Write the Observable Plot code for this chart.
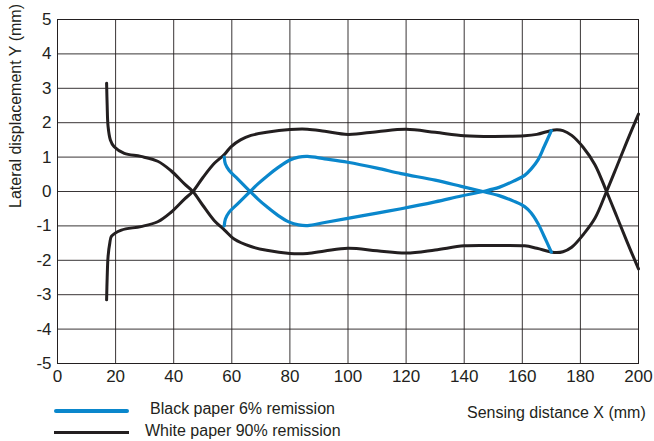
<!DOCTYPE html>
<html>
<head>
<meta charset="utf-8">
<script src="https://cdn.jsdelivr.net/npm/d3@7"></script>
<script src="https://cdn.jsdelivr.net/npm/@observablehq/plot@0.6"></script>
<style>
  body { margin: 0; background: #fff; }
  #wrap { position: relative; width: 654px; height: 441px; font-family: "Liberation Sans", Arial, sans-serif; color: #231f20; }
  #wrap svg { position: absolute; left: 0; top: 0; }
  .lbl { position: absolute; font-size: 16px; line-height: 18px; white-space: nowrap; }
  .sw { position: absolute; }
</style>
</head>
<body>
<div id="wrap"></div>
<script>
// Tick values
const xTicks = [0, 20, 40, 60, 80, 100, 120, 140, 160, 180, 200];
const yTicks = [-5, -4, -3, -2, -1, 0, 1, 2, 3, 4, 5];

// Series names
const seriesNames = ["Black paper 6% remission", "White paper 90% remission"];
const seriesColors = ["#0a87cc", "#231f20"];

// White paper 90% remission: branch starting at top-left
const whiteA = [
  [16.9,3.15],[17.1,2.5],[17.4,1.9],[18.2,1.5],[19.5,1.3],[23,1.11],[28.7,1.02],[34.5,0.88],[39,0.61],[43.7,0.22],[46.6,0],
  [50,-0.4],[54,-0.85],[57.5,-1.12],[60.8,-1.38],[66.6,-1.6],[72,-1.71],[80,-1.8],[86,-1.8],[92,-1.73],[100,-1.65],
  [110,-1.72],[120,-1.79],[130,-1.7],[140,-1.58],[150,-1.57],[160.8,-1.58],[165,-1.65],[171,-1.77],[174,-1.75],
  [177,-1.62],[181,-1.25],[185,-0.78],[189,0],[192.5,0.72],[196,1.45],[200,2.25]
];
// White paper 90% remission: branch starting at bottom-left
const whiteB = [
  [16.9,-3.15],[17.1,-2.5],[17.4,-1.9],[18,-1.5],[18.6,-1.3],[22,-1.12],[28.7,-1.02],[34.5,-0.88],[39,-0.61],[43.7,-0.22],[46.6,0],
  [50,0.4],[54,0.82],[57.5,1.08],[59.7,1.3],[63,1.5],[66.6,1.63],[72,1.72],[80,1.8],[86,1.81],[92,1.75],[100,1.66],
  [110,1.74],[120,1.81],[130,1.72],[140,1.62],[150,1.6],[160.8,1.62],[165,1.66],[171,1.79],[174,1.77],
  [177,1.63],[181,1.28],[185,0.78],[189,0],[192.5,-0.72],[196,-1.45],[200,-2.25]
];
// Black paper 6% remission: branch starting at top-left
const blackA = [
  [57.4,1.0],[57.8,0.8],[59.1,0.61],[62,0.37],[66.3,0],[69,-0.22],[72.3,-0.46],[76,-0.7],[79.8,-0.89],[83,-0.97],
  [86.1,-0.99],[92,-0.9],[99.9,-0.78],[110,-0.63],[118.3,-0.5],[130,-0.3],[139,-0.13],[146.4,0],[152,0.12],
  [157,0.3],[160.8,0.47],[163,0.65],[165.4,0.92],[167.5,1.3],[170,1.77]
];
// Black paper 6% remission: branch starting at bottom-left
const blackB = [
  [57.4,-1.0],[57.8,-0.8],[59.1,-0.6],[62,-0.36],[66.3,0],[69,0.22],[72.3,0.46],[76,0.7],[79.8,0.91],[83,1.0],
  [86.1,1.02],[92,0.95],[99.9,0.85],[110,0.68],[118.3,0.52],[130,0.33],[139,0.15],[146.4,0],[152,-0.12],
  [157,-0.28],[160.8,-0.44],[163,-0.62],[165.4,-0.93],[167.5,-1.3],[170,-1.76]
];

const toRows = (arr, series, branch) => arr.map(([x, y]) => ({x, y, series, branch}));
const whiteRows = [...toRows(whiteA, seriesNames[1], "a"), ...toRows(whiteB, seriesNames[1], "b")];
const blackRows = [...toRows(blackA, seriesNames[0], "a"), ...toRows(blackB, seriesNames[0], "b")];

const chart = Plot.plot({
  width: 654,
  height: 396,
  marginLeft: 57,
  marginRight: 16,
  marginTop: 19,
  marginBottom: 33,
  style: { fontFamily: "Liberation Sans, Arial, sans-serif", fontSize: "17px", color: "#231f20", background: "#fff" },
  x: { domain: [0, 200], ticks: xTicks, label: null },
  y: { domain: [-5, 5], ticks: yTicks, label: null },
  marks: [
    Plot.gridX(xTicks, { stroke: "#231f20", strokeOpacity: 0.9, strokeWidth: 1 }),
    Plot.gridY(yTicks, { stroke: "#231f20", strokeOpacity: 0.9, strokeWidth: 1 }),
    Plot.frame({ stroke: "#231f20", strokeWidth: 1 }),
    Plot.axisX(xTicks, { tickSize: 0, tickPadding: 6, tickFormat: d => String(d), label: null }),
    Plot.axisY(yTicks, { tickSize: 0, tickPadding: 6, tickFormat: d => String(d), label: null }),
    Plot.line(whiteRows, { x: "x", y: "y", z: "branch", stroke: seriesColors[1], strokeWidth: 3, curve: "catmull-rom" }),
    Plot.line(blackRows, { x: "x", y: "y", z: "branch", stroke: seriesColors[0], strokeWidth: 3.2, curve: "catmull-rom" })
  ]
});

const wrap = document.getElementById("wrap");
wrap.appendChild(chart);

function addDiv(cls, css, text) {
  const d = document.createElement("div");
  d.className = cls;
  d.style.cssText = css;
  if (text) d.textContent = text;
  wrap.appendChild(d);
  return d;
}
// y-axis title (rotated)
addDiv("lbl", "left:15.5px; top:106px; transform: translate(-50%,-50%) rotate(-90deg);", "Lateral displacement Y (mm)");
// x-axis title
addDiv("lbl", "left:467px; top:404px;", "Sensing distance X (mm)");
// legend
addDiv("sw", `left:54px; top:409px; width:75px; height:4px; background:${seriesColors[0]}; border-radius:2px;`);
addDiv("sw", `left:54px; top:431px; width:75px; height:2.5px; background:${seriesColors[1]};`);
addDiv("lbl", "left:150px; top:400px;", seriesNames[0]);
addDiv("lbl", "left:145px; top:421.5px;", seriesNames[1]);
</script>
</body>
</html>
